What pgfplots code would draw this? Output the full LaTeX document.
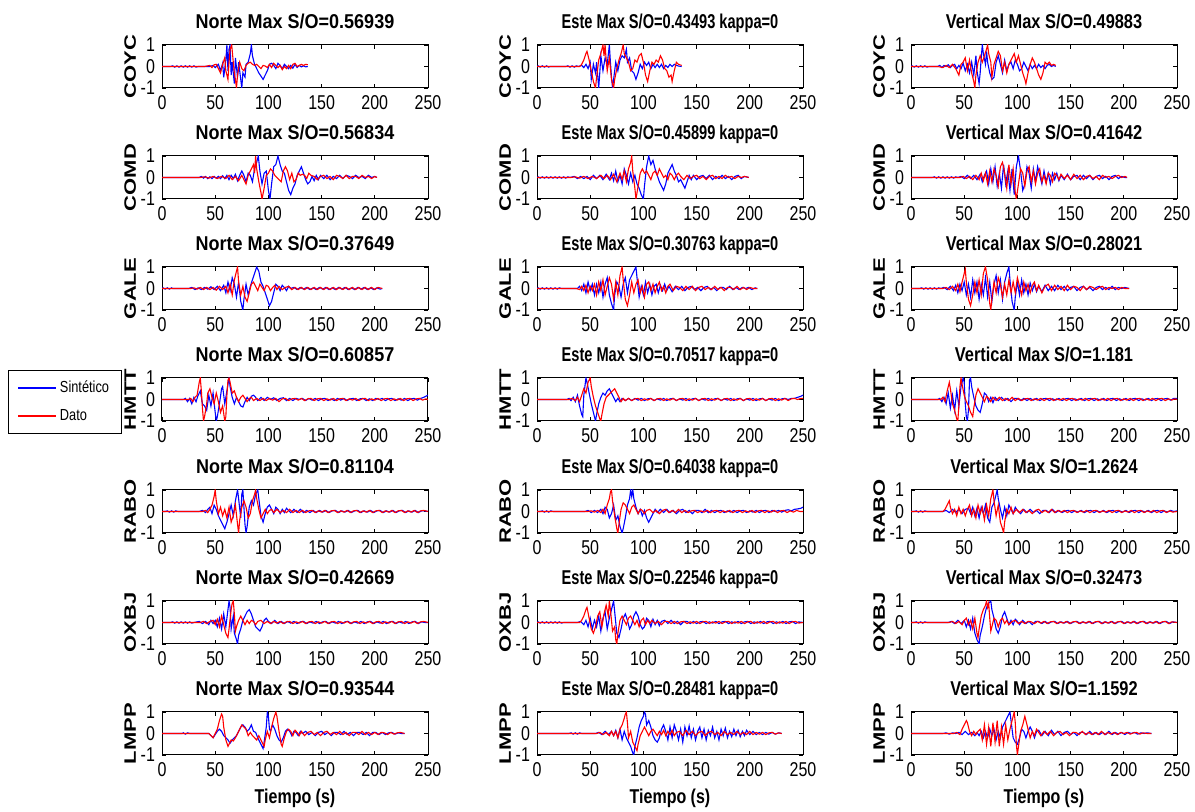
\documentclass[border=0pt]{standalone}
\usepackage{fontspec}
\setmainfont[FakeStretch=0.8]{Liberation Sans}
\newfontfamily\ylfont{Liberation Sans}
\newfontfamily\tfN[FakeStretch=0.9]{Liberation Sans}
\newfontfamily\tfE[FakeStretch=0.73]{Liberation Sans}
\newfontfamily\tfV[FakeStretch=0.82]{Liberation Sans}
\usepackage{graphicx}
\usepackage{pgfplots}
\pgfplotsset{compat=1.18}
\pgfplotsset{seis/.style={
  scale only axis, width=133pt, height=21.5pt, anchor=north west,
  xmin=0, xmax=250, ymin=-1, ymax=1,
  xtick={0,50,100,150,200,250}, ytick={-1,0,1},
  xticklabels={0,50,100,150,200,250}, yticklabels={-1,0,1},
  /pgf/number format/assume math mode=true,
  tick align=inside, major tick length=2pt,
  tick style={black, line width=0.4pt},
  axis line style={line width=0.5pt},
  tick label style={font=\fontsize{10}{10}\selectfont},
  title style={font=\bfseries\fontsize{10}{10}\selectfont, at={(axis description cs:0.5,1)}, anchor=base, yshift=2pt},
  ylabel style={at={(axis description cs:-0.12,0.5)}, anchor=center},
  xlabel style={font=\bfseries\fontsize{10}{10}\selectfont, at={(axis description cs:0.5,0)}, anchor=center, yshift=-21.5pt},
  every axis plot/.append style={line width=0.55pt},
}}
\newcommand{\ylab}[1]{\scalebox{1}[0.75]{\ylfont\bfseries\fontsize{11}{11}\selectfont #1}}
\newcommand{\panel}[7]{%
\begin{axis}[seis, at={(#1,#2)}, title={#3}, ylabel={\ylab{#4}}, #5]
\addplot[blue] coordinates {#6};
\addplot[red] coordinates {#7};
\end{axis}}
\begin{document}
\begin{tikzpicture}
\path[use as bounding box] (0,0) rectangle (597.5pt,406pt);
% ---------------- Row 1: COYC
\panel{81pt}{383.5pt}{\tfN Norte Max S/O=0.56939}{COYC}{}
{(0,0)(8,0)(10,0.03)(12,-0.03)(14,0.03)(16,-0.03)(18,0.03)(20,-0.03)(22,0.03)(24,-0.03)(26,0.03)(28,-0.03)(30,0.03)(32,-0.03)(34,0)(45,0)(48,0.05)(50,-0.05)(53,0.1)(55,-0.2)(57,0.15)(58,-0.5)(60,0.3)(61,1)(62,-0.2)(63,0.8)(64,1)(65,-0.4)(66,0.2)(68,-0.8)(69,0.4)(71,-0.5)(72,0.2)(74,-0.6)(75,-1)(76,-0.3)(78,-0.5)(79,0.1)(81,0.2)(83,0.6)(84,1)(85,0.5)(87,0.1)(89,-0.1)(91,-0.3)(93,-0.45)(95,-0.6)(97,-0.4)(99,-0.2)(101,0.1)(103,0.15)(105,0.05)(107,-0.1)(109,0.15)(111,0.05)(113,-0.1)(115,0.1)(117,0)(119,-0.1)(121,0.05)(123,-0.08)(125,0.1)(127,-0.05)(129,0.05)(131,-0.02)(133,0.03)(135,-0.02)(137,0)}
{(0,0)(40,0)(45,0.05)(47,-0.05)(49,0.08)(51,0.1)(53,-0.1)(55,-0.3)(57,0.1)(59,0.4)(60,-0.2)(62,-0.6)(63,0.2)(64,0.8)(65.5,1)(67,0.2)(68,-0.3)(69,-0.6)(70,-1)(71,-0.4)(73,0.2)(75,-0.1)(77,-0.2)(79,0.05)(81,0.15)(83,0.2)(85,0.1)(87,0.05)(89,0.1)(91,0)(93,-0.1)(95,0.05)(97,0.02)(99,-0.05)(101,0.1)(103,-0.05)(105,0.15)(107,0.05)(109,-0.05)(111,0.05)(113,-0.15)(115,0)(117,-0.1)(119,0.05)(121,-0.1)(123,0.1)(125,0.15)(127,0)(129,0.05)(131,0.1)(133,0.05)(135,0.1)(137,0.08)}
\panel{268.5pt}{383.5pt}{\tfE Este Max S/O=0.43493 kappa=0}{COYC}{}
{(0,0)(1,0.03)(3,-0.03)(5,0.03)(7,-0.03)(9,0.03)(11,-0.03)(12,0)(27,0)(29,0.03)(31,-0.03)(33,0.03)(35,-0.03)(37,0.03)(39,0)(42,0.05)(44,-0.05)(46,0.1)(48,-0.1)(50,0.2)(51,-0.6)(53,0.1)(55,-0.3)(56,0.2)(58,-1)(59,-0.3)(60,0.5)(62,-0.2)(64,0.4)(66,0.1)(68,1)(69,0.2)(70,-0.5)(71,-1)(72,-0.6)(74,0.2)(76,-0.2)(78,0.3)(80,0.5)(82,0.4)(84,0.8)(85,0.2)(87,0.4)(89,-0.2)(91,-0.3)(93,-0.6)(95,-0.3)(97,0.1)(99,-0.1)(101,0.2)(103,0.05)(105,0.2)(107,-0.1)(109,0.1)(111,-0.05)(113,0.1)(115,-0.05)(117,0.1)(119,-0.1)(121,0.05)(123,-0.05)(125,0.1)(127,0)(129,0.1)(131,0.05)(133,0.02)(136,0)}
{(0,0)(40,0)(42,0.1)(44,0.3)(46,0.6)(47,0.7)(49,0.3)(51,-0.2)(53,-0.7)(55,-1)(56,-0.5)(58,0.3)(60,0.6)(62,1)(63,0.5)(64,1)(65,0.3)(66,-0.2)(68,0.4)(70,-0.6)(72,-1)(73,-0.6)(75,-0.1)(77,0.3)(79,0.6)(81,1)(82,0.6)(84,0.4)(86,0.2)(88,-0.2)(90,-0.1)(92,0.3)(94,0.2)(96,0.5)(98,0.6)(100,0.2)(102,-0.4)(104,-0.7)(106,-0.2)(108,0.2)(110,0.1)(112,0.3)(114,0.2)(116,0.5)(118,0.3)(120,-0.1)(122,-0.2)(124,-0.5)(126,-0.4)(127,-0.7)(129,-0.2)(131,0.2)(133,0.1)(136,0.05)}
\panel{455.5pt}{383.5pt}{\tfV Vertical Max S/O=0.49883}{COYC}{}
{(0,0)(1,0.03)(3,-0.03)(5,0.03)(7,-0.03)(9,0.03)(11,-0.03)(13,0.03)(15,-0.03)(17,0)(25,0)(27,0.05)(29,-0.05)(31,0.05)(33,0)(35,0.08)(37,-0.05)(39,0.05)(41,0.1)(43,-0.1)(45,0.05)(47,-0.1)(49,0.15)(51,-0.2)(53,0.1)(55,-0.3)(57,0.2)(59,-0.4)(61,0.5)(62,-0.2)(64,-0.8)(65,-0.3)(66,0.4)(67,1)(68,0.6)(70,0.1)(71,0.7)(72,0.2)(74,-0.3)(76,-0.6)(78,-0.5)(80,0.2)(82,0.5)(84,0.1)(86,-0.3)(88,0.3)(90,-0.2)(92,0.1)(94,0.2)(96,-0.1)(98,0.3)(100,0.1)(102,-0.2)(104,-0.1)(106,0.2)(108,0)(110,-0.2)(112,0.1)(114,-0.1)(116,0.05)(118,-0.1)(120,0.1)(122,-0.05)(124,0.05)(126,-0.1)(128,0.05)(130,0.1)(132,0)(134,0.05)(136,0)}
{(0,0)(25,0)(30,-0.05)(33,0.05)(36,-0.05)(39,0.1)(42,-0.1)(45,-0.4)(47,0.1)(49,0.2)(51,0.4)(53,-0.2)(55,0.3)(57,-0.3)(59,-0.7)(60,-1)(61,-0.4)(63,0.2)(65,0.5)(67,0.2)(69,0.5)(71,0.8)(72,1)(73,0.6)(75,0.2)(76,-0.5)(78,0.1)(80,0.4)(82,0.7)(84,0.5)(86,-0.2)(88,0.2)(90,-0.3)(92,0.1)(94,0.3)(96,0.5)(97,0.6)(99,0.2)(101,0.5)(103,0.1)(105,-0.3)(107,-0.6)(108,-0.8)(110,-0.3)(112,0.1)(114,0.4)(116,0.2)(118,-0.1)(120,-0.4)(122,-0.6)(124,-0.3)(126,0.2)(128,0.1)(130,0.2)(132,0.05)(134,0.1)(136,0.05)}
% ---------------- Row 2: COMD
\panel{81pt}{328pt}{\tfN Norte Max S/O=0.56834}{COMD}{}
{(0,0)(35,0)(37,0.05)(39,-0.03)(41,0.05)(43,-0.05)(45,0.03)(47,-0.05)(49,0.05)(51,-0.03)(53,0.05)(55,-0.05)(57,0.08)(59,-0.05)(61,0.1)(63,-0.1)(65,0.1)(67,-0.05)(69,0.15)(71,-0.15)(73,0.1)(75,0.3)(77,0.1)(79,-0.2)(81,0.2)(83,0.1)(85,-0.2)(87,0.4)(89,0.7)(90.5,1)(92,0.3)(94,-0.3)(96,0.2)(98,0.3)(100,-0.6)(101.5,-1)(103,-0.3)(105,0.5)(107,0.6)(109,1)(111,0.6)(113,0.3)(115,0.2)(117,-0.2)(119,-0.6)(121,-0.8)(123,-0.5)(125,-0.3)(127,0.1)(129,0.3)(131,0.5)(133,0.2)(135,-0.1)(137,-0.3)(139,-0.2)(141,0.05)(143,-0.15)(145,0.1)(147,-0.1)(149,0.1)(152,-0.05)(155,0.1)(158,-0.1)(161,0.05)(164,-0.05)(167,0.1)(170,-0.05)(173,0.1)(176,0.05)(179,-0.05)(182,0.1)(185,0)(188,0.05)(191,-0.05)(194,0.1)(197,0)(200,0.05)(202,0)}
{(0,0)(36,0)(40,0.03)(44,-0.03)(48,0.05)(52,-0.05)(56,0.05)(60,-0.05)(63,0.1)(66,-0.1)(69,0.05)(72,-0.15)(75,0.1)(77,-0.1)(79,-0.3)(81,0.1)(83,0.3)(85,0.5)(86,0.6)(87,0.2)(88,1)(89,0.4)(91,-0.2)(93,-0.7)(94,-1)(96,-0.5)(98,0.1)(100,0.2)(102,0.4)(104,0.3)(106,0.1)(108,0)(110,-0.1)(112,-0.2)(114,0.3)(116,0.5)(118,0.3)(120,-0.1)(122,0.2)(124,-0.2)(126,-0.1)(128,0.2)(130,0.1)(132,0.15)(134,0.1)(136,-0.05)(138,0.2)(140,0.1)(143,0.05)(146,-0.1)(149,0.05)(152,0.1)(155,-0.05)(158,0.05)(161,-0.1)(164,0.1)(167,0.05)(170,-0.05)(173,0.1)(176,-0.05)(179,0.05)(182,0.05)(185,-0.05)(188,0.1)(191,0)(194,0.05)(197,-0.05)(200,0.05)(202,0)}
\panel{268.5pt}{328pt}{\tfE Este Max S/O=0.45899 kappa=0}{COMD}{}
{(0,0)(1,0.03)(3,-0.03)(5,0.03)(7,-0.03)(9,0.03)(11,-0.03)(13,0.03)(15,-0.03)(17,0.03)(19,-0.03)(21,0.03)(23,-0.03)(25,0.03)(27,-0.03)(29,0.03)(31,0)(35,0.05)(38,-0.05)(41,0.05)(44,-0.05)(47,0.05)(50,-0.1)(53,0.1)(56,-0.05)(59,0.1)(62,-0.1)(65,0.15)(68,-0.1)(70,0.2)(72,-0.15)(74,0.3)(76,-0.2)(78,0.1)(80,-0.3)(82,0.4)(84,0.1)(86,-0.3)(88,0.2)(90,-0.2)(92,0.1)(94,-0.3)(96,-0.5)(98,-0.8)(100,-1)(101,-0.4)(103,0.5)(105,1)(107,0.6)(109,0.8)(111,0.4)(113,0.1)(115,-0.2)(117,-0.4)(119,-0.6)(121,-0.3)(123,0.2)(125,0.4)(127,0.6)(129,0.3)(131,0.1)(133,-0.2)(135,-0.1)(137,-0.3)(139,-0.5)(141,-0.2)(143,0.1)(145,-0.1)(147,0.1)(150,-0.1)(153,0.05)(156,0.1)(159,-0.05)(162,0.1)(165,-0.1)(168,0.05)(171,-0.05)(174,0.1)(177,-0.05)(180,0.05)(183,-0.1)(186,0.05)(189,0.1)(192,-0.05)(195,0.05)(199,0)}
{(0,0)(32,0)(36,0.03)(40,-0.03)(44,0.05)(48,-0.05)(52,0.05)(56,-0.05)(60,0.1)(63,-0.05)(66,0.1)(69,-0.1)(72,0.15)(75,-0.2)(78,0.2)(80,-0.1)(82,0.3)(84,-0.2)(86,0.4)(88,0.7)(89,1)(90,0.3)(92,-0.5)(93,-1)(95,-0.4)(97,0.2)(99,0.4)(101,0.2)(103,0.3)(105,0.1)(107,-0.1)(109,0.2)(111,0.3)(113,0.1)(115,0.4)(117,0.2)(119,0.0)(121,0.1)(123,-0.1)(125,0.2)(127,0.1)(129,-0.1)(131,0.1)(133,0.2)(135,0.05)(138,-0.1)(141,0.1)(144,-0.05)(147,0.05)(150,0.1)(153,-0.05)(156,0.05)(159,-0.1)(162,0.05)(165,0.1)(168,-0.05)(171,0.05)(174,-0.05)(177,0.1)(180,0)(183,0.05)(186,-0.05)(189,0.05)(192,0)(195,0.05)(199,0)}
\panel{455.5pt}{328pt}{\tfV Vertical Max S/O=0.41642}{COMD}{}
{(0,0)(20,0)(22,0.03)(24,-0.03)(26,0.03)(28,-0.03)(30,0.03)(32,-0.03)(34,0.03)(36,-0.03)(38,0.03)(40,-0.03)(42,0.03)(44,0)(47,0.05)(50,-0.05)(53,0.1)(56,-0.05)(59,0.1)(62,-0.1)(65,0.15)(67,-0.2)(69,0.1)(71,0.3)(73,-0.3)(75,0.4)(77,-0.2)(79,0.5)(81,-0.4)(83,0.2)(85,-0.5)(87,0.6)(89,-0.3)(91,0.3)(93,-0.6)(95,0.4)(97,-0.8)(99,0.5)(101,1)(103,0.3)(105,-0.6)(107,-0.3)(109,0.5)(111,0.2)(113,-0.5)(115,0.4)(117,-0.2)(119,0.5)(121,0.1)(123,-0.3)(125,0.3)(127,-0.2)(129,0.2)(131,-0.3)(133,0.2)(135,-0.1)(137,0.2)(139,-0.15)(141,0.1)(144,-0.1)(147,0.15)(150,-0.1)(153,0.05)(156,0.1)(159,-0.1)(162,0.1)(165,-0.05)(168,0.1)(171,-0.1)(174,0.05)(177,0.1)(180,-0.05)(183,0.05)(186,-0.1)(189,0.05)(192,0.1)(195,-0.05)(198,0.05)(201,0)(203,0)}
{(0,0)(46,0)(49,0.05)(52,-0.05)(55,0.05)(58,-0.1)(61,0.1)(64,-0.1)(66,0.2)(68,-0.15)(70,0.2)(72,-0.3)(74,0.3)(76,-0.2)(78,0.4)(80,0.1)(82,-0.4)(84,0.5)(86,0.7)(88,0.2)(90,-0.5)(92,0.6)(94,-0.3)(96,0.4)(98,-0.7)(99,-1)(101,-0.3)(103,0.4)(105,0.2)(107,-0.4)(109,0.3)(111,0.5)(113,-0.2)(115,0.3)(117,-0.3)(119,0.2)(121,0.4)(123,-0.2)(125,0.1)(127,-0.3)(129,0.2)(131,0.1)(133,-0.2)(135,0.2)(137,0.1)(139,-0.1)(141,0.15)(144,-0.05)(147,0.1)(150,-0.1)(153,0.15)(156,-0.05)(159,0.1)(162,-0.1)(165,0.05)(168,0.1)(171,-0.05)(174,0.05)(177,-0.1)(180,0.1)(183,0)(186,0.05)(189,-0.05)(192,0.05)(195,0.1)(198,0)(201,0.05)(203,0)}
% ---------------- Row 3: GALE
\panel{81pt}{272.5pt}{\tfN Norte Max S/O=0.37649}{GALE}{}
{(0,0)(1,0.03)(3,-0.03)(5,0.03)(7,-0.03)(9,0.03)(10,0)(25,0)(28,0.05)(31,-0.05)(34,0.03)(37,-0.05)(40,0.05)(43,-0.03)(46,0.08)(49,-0.05)(52,0.1)(55,-0.1)(58,0.15)(60,-0.2)(62,0.3)(64,-0.1)(66,0.5)(68,0.2)(70,-0.4)(72,0.3)(74,-0.6)(76,-1)(77,-0.5)(79,0.2)(81,-0.3)(83,0.1)(85,0.4)(87,0.7)(89,1)(91,0.8)(93,0.3)(95,0.1)(97,-0.2)(99,-0.5)(101,-0.8)(103,-0.6)(105,-0.2)(107,0.2)(109,0.1)(111,-0.1)(113,0.15)(115,0.05)(117,-0.1)(119,0.1)(121,0)(124,0.05)(127,-0.05)(130,0.05)(133,-0.03)(136,0.05)(139,-0.05)(142,0.03)(145,-0.05)(148,0.05)(151,-0.03)(154,0.05)(157,-0.05)(160,0.03)(163,-0.05)(166,0.05)(169,-0.03)(172,0.05)(175,-0.05)(178,0.03)(181,-0.05)(184,0.05)(187,-0.03)(190,0.05)(193,-0.05)(196,0.03)(199,-0.05)(202,0.03)(205,-0.03)(207,0)}
{(0,0)(27,0)(30,0.03)(33,-0.03)(36,0.05)(39,-0.05)(42,0.05)(45,-0.05)(48,0.05)(51,-0.08)(54,0.1)(57,-0.05)(60,0.1)(62,-0.2)(64,0.2)(66,-0.3)(68,0.4)(70,0.8)(71,1)(72,0.3)(74,-0.3)(76,0.1)(78,-0.4)(80,-0.6)(82,-0.2)(84,0.2)(86,0.3)(88,0.1)(90,-0.1)(92,0.2)(94,0.05)(96,-0.1)(98,0.15)(100,0.1)(102,-0.1)(104,0.05)(106,0.15)(108,-0.05)(110,0.1)(113,-0.05)(116,0.05)(119,0.1)(122,-0.05)(125,0.05)(128,-0.05)(131,0.05)(134,-0.05)(137,0.05)(140,-0.05)(143,0.05)(146,-0.05)(149,0.05)(152,-0.05)(155,0.05)(158,-0.05)(161,0.05)(164,-0.05)(167,0.05)(170,-0.05)(173,0.05)(176,-0.05)(179,0.05)(182,-0.05)(185,0.05)(188,-0.05)(191,0.05)(194,-0.05)(197,0.05)(200,-0.05)(203,0.05)(207,0)}
\panel{268.5pt}{272.5pt}{\tfE Este Max S/O=0.30763 kappa=0}{GALE}{}
{(0,0)(1,0.03)(3,-0.03)(5,0.03)(7,-0.03)(9,0.03)(11,-0.03)(13,0.03)(15,-0.03)(17,0.03)(19,-0.03)(21,0.03)(23,0)(38,0)(40,0.1)(42,-0.1)(44,0.2)(46,-0.2)(48,0.3)(50,-0.1)(52,0.2)(54,-0.3)(56,0.2)(58,-0.2)(60,0.3)(62,-0.4)(64,0.2)(66,0.5)(68,-0.3)(70,-0.7)(72,-1)(73,-0.3)(75,0.3)(77,0.1)(79,-0.4)(81,0.2)(83,0.5)(85,-0.2)(87,0.4)(89,0.6)(91,0.8)(93,1)(94,0.5)(96,-0.4)(98,0.1)(100,-0.3)(102,0.3)(104,-0.2)(106,0.2)(108,-0.3)(110,0.1)(112,0.2)(114,-0.2)(116,0.15)(118,-0.1)(120,0.2)(122,-0.1)(124,0.1)(127,-0.15)(130,0.1)(133,-0.05)(136,0.1)(139,-0.1)(142,0.05)(145,0.1)(148,-0.05)(151,0.05)(154,-0.1)(157,0.05)(160,0.1)(163,-0.05)(166,0.05)(169,-0.1)(172,0.05)(175,0.05)(178,-0.05)(181,0.1)(184,-0.05)(187,0.05)(190,-0.05)(193,0.05)(196,0)(199,0.05)(202,-0.05)(205,0.03)(207,0)}
{(0,0)(37,0)(40,-0.05)(42,0.1)(44,-0.1)(46,0.15)(48,-0.2)(50,0.1)(52,-0.1)(54,0.2)(56,-0.3)(58,0.3)(60,-0.1)(62,0.4)(64,-0.3)(66,0.1)(68,0.5)(70,0.2)(72,-0.5)(74,0.3)(76,-0.3)(78,0.6)(80,1)(81,0.4)(83,-0.5)(85,-0.8)(87,-0.3)(89,0.3)(91,-0.2)(93,0.2)(95,0.4)(97,-0.2)(99,0.1)(101,-0.4)(103,0.2)(105,0.3)(107,-0.1)(109,0.2)(111,-0.2)(113,0.1)(115,0.3)(117,-0.1)(119,0.1)(121,-0.2)(123,0.1)(125,0.2)(128,-0.1)(131,0.1)(134,0.05)(137,-0.1)(140,0.1)(143,-0.05)(146,0.1)(149,-0.1)(152,0.05)(155,0.1)(158,-0.05)(161,0.05)(164,-0.05)(167,0.1)(170,-0.05)(173,0.05)(176,-0.1)(179,0.05)(182,0.05)(185,-0.05)(188,0.1)(191,-0.05)(194,0.05)(197,-0.05)(200,0.05)(203,0)(207,0)}
\panel{455.5pt}{272.5pt}{\tfV Vertical Max S/O=0.28021}{GALE}{}
{(0,0)(8,0)(10,0.03)(12,-0.03)(14,0.03)(16,-0.03)(18,0.03)(20,-0.03)(22,0.03)(24,-0.03)(26,0.03)(28,0)(31,0.05)(34,-0.05)(37,0.1)(40,-0.1)(42,0.15)(44,-0.2)(46,0.2)(48,-0.1)(50,0.3)(52,-0.3)(54,0.2)(56,-0.4)(58,0.4)(60,-0.2)(62,0.3)(64,-0.5)(66,0.2)(68,-0.3)(70,0.5)(72,-0.4)(74,0.3)(76,-0.6)(78,0.2)(80,0.6)(82,-0.2)(84,0.4)(86,-0.5)(88,0.3)(90,0.7)(92,1)(93,0.4)(95,-0.6)(97,-1)(98,-0.4)(100,0.3)(102,-0.3)(104,0.4)(106,-0.2)(108,0.2)(110,-0.3)(112,0.25)(114,-0.1)(116,0.2)(118,-0.15)(120,0.1)(123,-0.15)(126,0.15)(129,-0.1)(132,0.1)(135,-0.1)(138,0.15)(141,-0.05)(144,0.1)(147,-0.1)(150,0.05)(153,0.1)(156,-0.1)(159,0.05)(162,0.1)(165,-0.05)(168,0.05)(171,-0.1)(174,0.05)(177,0.1)(180,-0.05)(183,0.05)(186,-0.05)(189,0.1)(192,-0.05)(195,0.05)(198,0)(201,0.05)(205,0)}
{(0,0)(30,0)(33,0.05)(36,-0.05)(39,0.1)(42,-0.1)(44,0.2)(46,-0.15)(48,0.3)(50,0.7)(51,0.9)(52,0.3)(54,-0.5)(56,-0.8)(58,-0.3)(60,0.3)(62,-0.2)(64,0.4)(66,-0.3)(68,0.7)(70,1)(72,0.4)(74,-0.7)(75,-1)(76,-0.5)(78,0.3)(80,-0.2)(82,0.5)(84,0.2)(86,-0.4)(88,0.2)(90,-0.3)(92,0.4)(94,-0.2)(96,0.3)(98,-0.2)(100,0.5)(102,0.1)(104,-0.3)(106,0.3)(108,-0.1)(110,0.2)(112,-0.2)(114,0.15)(116,0.3)(118,-0.1)(120,0.15)(123,-0.2)(126,0.1)(129,0.2)(132,-0.1)(135,0.15)(138,-0.05)(141,0.1)(144,-0.1)(147,0.15)(150,-0.05)(153,0.1)(156,0.05)(159,-0.1)(162,0.1)(165,-0.05)(168,0.1)(171,0.05)(174,-0.05)(177,0.05)(180,0.1)(183,-0.05)(186,0.05)(189,0)(192,0.05)(195,-0.05)(198,0.05)(201,0)(205,0)}
% ---------------- Row 4: HMTT
\panel{81pt}{217pt}{\tfN Norte Max S/O=0.60857}{HMTT}{legend entries={Sintético,Dato}, legend style={at={(axis description cs:-0.579,1.186)}, anchor=north west, font=\fontsize{8}{9}\selectfont, draw=black, inner xsep=4.5pt, inner ysep=3.5pt, row sep=4pt, nodes={inner sep=1.5pt}, cells={anchor=west}}, legend image code/.code={\draw[#1, line width=0.8pt] (0pt,0pt) -- (19pt,0pt);}}
{(0,0)(20,0)(22,0.05)(24,-0.1)(26,0.05)(28,-0.2)(30,0.1)(32,-0.1)(34,0.2)(36,0.4)(38,-0.2)(40,-0.3)(42,-0.5)(44,0.2)(46,-0.3)(48,0.3)(50,-0.6)(51,-1)(52,-0.8)(54,-0.2)(56,0.5)(57,0.6)(59,-0.2)(61,0.4)(63,1)(64,0.6)(66,0.1)(68,-0.2)(70,0.1)(72,-0.1)(74,-0.3)(76,-0.35)(78,-0.1)(80,0.1)(82,-0.05)(84,0.15)(86,0.2)(88,0.1)(90,-0.05)(93,0.1)(96,-0.05)(99,0.1)(102,0)(105,0.08)(108,-0.05)(111,0.05)(114,0.08)(117,-0.05)(120,0.05)(123,-0.05)(126,0.05)(129,0)(132,0.05)(135,-0.05)(138,0.05)(141,-0.03)(144,0.05)(147,-0.05)(150,0.03)(153,0.05)(156,-0.05)(159,0.03)(162,-0.05)(165,0.05)(168,-0.03)(171,0.05)(174,-0.05)(177,0.03)(180,0.05)(183,-0.05)(186,0.03)(189,0.05)(192,-0.05)(195,0.03)(198,-0.05)(201,0.05)(204,0)(207,0.05)(210,-0.05)(213,0.03)(216,0.05)(219,-0.05)(222,0.03)(225,-0.03)(228,0.05)(231,-0.05)(234,0.03)(237,0.05)(240,-0.03)(243,0.05)(246,0.1)(248,0.15)(250,0.2)}
{(0,0)(25,0)(27,0.05)(29,-0.1)(31,0.1)(33,0.2)(35,0.8)(36,1)(37,0.4)(38,-0.4)(39,-1)(40,-0.8)(42,-0.2)(43,0.3)(45,0.5)(47,0.1)(49,-0.2)(51,0.3)(53,-0.1)(55,-0.6)(57,-0.3)(59,-1)(60,-0.8)(61,0.2)(62,0.9)(63,1)(64,0.8)(66,0.3)(68,0.4)(70,0.1)(72,-0.1)(74,0.1)(76,0.2)(78,0.05)(80,-0.1)(82,0.05)(84,0.1)(86,-0.05)(89,0.05)(92,-0.05)(95,0.05)(98,-0.05)(101,0.05)(104,-0.03)(107,0.05)(110,-0.1)(113,0.03)(116,0.05)(119,-0.05)(122,0.03)(125,0.05)(128,-0.03)(131,0.05)(134,-0.05)(137,0.03)(140,0.05)(143,-0.05)(146,0.03)(149,0.05)(152,-0.05)(155,0.03)(158,-0.03)(161,0.05)(164,-0.05)(167,0.03)(170,0.05)(173,-0.05)(176,0.03)(179,-0.03)(182,0.05)(185,-0.05)(188,0.03)(191,0.05)(194,-0.05)(197,0.03)(200,-0.03)(203,0.05)(206,-0.05)(209,0.03)(212,0.05)(215,-0.05)(218,0.03)(221,-0.03)(224,0.05)(227,-0.05)(230,0.03)(233,0.05)(236,-0.05)(239,0.03)(242,0.05)(245,-0.03)(248,0.03)(250,0)}
\panel{268.5pt}{217pt}{\tfE Este Max S/O=0.70517 kappa=0}{HMTT}{}
{(0,0)(28,0)(30,0.05)(32,-0.05)(34,0.1)(36,-0.1)(38,0.2)(40,-0.3)(42,-0.7)(43,-0.8)(44,0.2)(46,1)(47,0.8)(49,0.3)(51,-0.2)(53,-0.6)(55,-1)(56,-0.7)(58,-0.2)(60,0.1)(62,0.3)(64,0.2)(66,0.4)(68,0.5)(70,0.3)(72,0.1)(74,-0.1)(76,0.05)(78,-0.1)(80,0.05)(83,-0.05)(86,0.05)(89,-0.05)(92,0.05)(95,-0.03)(98,0.05)(101,-0.05)(104,0.03)(107,0.05)(110,-0.05)(113,0.03)(116,-0.03)(119,0.05)(122,-0.05)(125,0.03)(128,0.05)(131,-0.05)(134,0.03)(137,-0.03)(140,0.05)(143,-0.05)(146,0.03)(149,0.05)(152,-0.05)(155,0.03)(158,-0.03)(161,0.05)(164,-0.05)(167,0.03)(170,0.05)(173,-0.05)(176,0.03)(179,-0.03)(182,0.05)(185,-0.05)(188,0.03)(191,0.05)(194,-0.05)(197,0.03)(200,-0.03)(203,0.05)(206,-0.05)(209,0.03)(212,0.05)(215,-0.05)(218,0.03)(221,-0.03)(224,0.05)(227,-0.05)(230,0.03)(233,0.05)(236,0)(239,0.05)(242,0.05)(245,0.1)(248,0.15)(250,0.2)}
{(0,0)(30,0)(33,0.05)(36,-0.05)(38,0.1)(40,-0.1)(42,0.2)(44,0.5)(46,0.3)(48,0.8)(50,1)(51,0.6)(53,0.1)(55,-0.3)(57,-0.6)(59,-0.9)(60,-1)(61,-0.7)(63,-0.2)(65,0.1)(67,0.2)(69,0.3)(71,0.4)(73,0.5)(75,0.3)(77,0.1)(79,-0.1)(81,0.05)(83,-0.05)(86,0.05)(89,-0.05)(92,0.03)(95,0.05)(98,-0.05)(101,0.03)(104,-0.03)(107,0.05)(110,-0.05)(113,0.03)(116,0.05)(119,-0.05)(122,0.03)(125,-0.03)(128,0.05)(131,-0.05)(134,0.03)(137,0.05)(140,-0.05)(143,0.03)(146,-0.03)(149,0.05)(152,-0.05)(155,0.03)(158,0.05)(161,-0.05)(164,0.03)(167,-0.03)(170,0.05)(173,-0.05)(176,0.03)(179,0.05)(182,-0.05)(185,0.03)(188,-0.03)(191,0.05)(194,-0.05)(197,0.03)(200,0.05)(203,-0.05)(206,0.03)(209,-0.03)(212,0.05)(215,-0.05)(218,0.03)(221,0.05)(224,-0.05)(227,0.03)(230,-0.03)(233,0.05)(236,-0.05)(239,0.03)(242,0.05)(245,0)(248,0.05)(250,0.05)}
\panel{455.5pt}{217pt}{\tfV Vertical Max S/O=1.181}{HMTT}{}
{(0,0)(25,0)(27,0.05)(29,-0.1)(31,0.1)(33,-0.2)(35,0.3)(37,-0.4)(39,0.2)(41,-0.5)(43,0.4)(45,-0.3)(47,0.6)(49,1)(50,0.8)(51,-0.2)(52,-0.8)(53,-1)(54,-0.5)(55,0.9)(56,1)(57,0.6)(59,0.1)(61,-0.3)(63,-0.5)(65,-0.6)(67,-0.2)(69,0.3)(71,0.2)(73,-0.1)(75,0.1)(77,-0.15)(79,0.1)(82,-0.05)(85,0.1)(88,-0.05)(91,0.05)(94,-0.1)(97,0.05)(100,0.05)(103,-0.05)(106,0.05)(109,-0.05)(112,0.05)(115,-0.03)(118,0.05)(121,-0.05)(124,0.03)(127,0.05)(130,-0.05)(133,0.03)(136,-0.03)(139,0.05)(142,-0.05)(145,0.03)(148,0.05)(151,-0.05)(154,0.03)(157,-0.03)(160,0.05)(163,-0.05)(166,0.03)(169,0.05)(172,-0.05)(175,0.03)(178,-0.03)(181,0.05)(184,-0.05)(187,0.03)(190,0.05)(193,-0.05)(196,0.03)(199,-0.03)(202,0.05)(205,-0.05)(208,0.03)(211,0.05)(214,-0.05)(217,0.03)(220,-0.03)(223,0.05)(226,-0.05)(229,0.03)(232,0.05)(235,-0.05)(238,0.03)(241,0.05)(244,-0.03)(247,0.05)(250,0.05)}
{(0,0)(28,0)(30,0.1)(32,-0.1)(34,0.4)(36,0.8)(37,0.5)(39,-0.2)(41,-0.5)(43,-0.9)(44,-1)(45,-0.3)(46,0.6)(47,1)(48,0.7)(50,0.2)(52,-0.1)(54,-0.3)(56,-0.6)(58,-0.8)(59,-0.4)(61,0.2)(63,0.5)(65,0.3)(67,0.1)(69,-0.1)(71,0.15)(73,0.05)(75,-0.1)(77,0.1)(80,-0.05)(83,0.1)(86,-0.05)(89,0.05)(92,-0.05)(95,0.1)(98,-0.05)(101,0.05)(104,-0.05)(107,0.03)(110,0.05)(113,-0.05)(116,0.03)(119,-0.03)(122,0.05)(125,-0.05)(128,0.03)(131,0.05)(134,-0.05)(137,0.03)(140,-0.03)(143,0.05)(146,-0.05)(149,0.03)(152,0.05)(155,-0.05)(158,0.03)(161,-0.03)(164,0.05)(167,-0.05)(170,0.03)(173,0.05)(176,-0.05)(179,0.03)(182,-0.03)(185,0.05)(188,-0.05)(191,0.03)(194,0.05)(197,-0.05)(200,0.03)(203,-0.03)(206,0.05)(209,-0.05)(212,0.03)(215,0.05)(218,-0.05)(221,0.03)(224,-0.03)(227,0.05)(230,-0.05)(233,0.03)(236,0.05)(239,-0.05)(242,0.03)(245,-0.03)(248,0.03)(250,0)}
% ---------------- Row 5: RABO
\panel{81pt}{161pt}{\tfN Norte Max S/O=0.81104}{RABO}{}
{(0,0)(3,0)(5,0.03)(7,-0.03)(9,0.03)(11,-0.03)(13,0.03)(15,0)(35,0)(38,0.05)(41,-0.05)(43,0.1)(45,0.2)(47,-0.1)(49,0.3)(51,0.1)(53,-0.2)(55,-0.4)(57,-0.6)(59,-0.8)(61,-0.5)(63,-0.1)(65,0.3)(67,-0.2)(69,0.5)(71,1)(72,0.6)(74,-0.3)(75,0.8)(76,1)(77,0.2)(78,-0.6)(79,-1)(80,-0.7)(82,0.2)(84,0.5)(86,0.3)(88,0.8)(90,1)(91,0.6)(93,-0.2)(95,-0.5)(97,-0.1)(99,0.2)(101,0.3)(103,0.1)(105,-0.1)(107,0.2)(109,0.1)(111,-0.1)(113,0.1)(115,-0.05)(117,0.15)(119,0.05)(121,-0.05)(124,0.1)(127,-0.05)(130,0.1)(133,-0.05)(136,0.05)(139,-0.05)(142,0.05)(145,-0.05)(148,0.05)(151,-0.03)(154,0.05)(157,-0.05)(160,0.03)(163,0.05)(166,-0.05)(169,0.03)(172,-0.03)(175,0.05)(178,-0.05)(181,0.03)(184,0.05)(187,-0.05)(190,0.03)(193,-0.03)(196,0.05)(199,-0.05)(202,0.03)(205,0.05)(208,-0.05)(211,0.03)(214,-0.03)(217,0.05)(220,-0.05)(223,0.03)(226,0.05)(229,-0.05)(232,0.03)(235,-0.03)(238,0.05)(241,-0.05)(244,0.03)(247,0.03)(250,0)}
{(0,0)(38,0)(41,0.05)(43,-0.05)(45,0.1)(47,0.3)(49,0.7)(50,1)(51,0.5)(53,-0.1)(55,0.2)(57,-0.2)(59,0.1)(61,-0.3)(63,0.2)(65,-0.5)(67,-0.2)(69,0.3)(71,-0.6)(72,-1)(73,-0.4)(75,0.2)(77,0.5)(79,0.2)(81,-0.3)(83,-0.1)(85,0.5)(87,0.8)(88,1)(89,0.6)(91,0.1)(93,-0.3)(95,-0.1)(97,0.1)(99,-0.1)(101,0.05)(103,0.1)(105,-0.05)(108,0.1)(111,-0.05)(114,0.05)(117,-0.05)(120,0.1)(123,-0.05)(126,0.05)(129,-0.05)(132,0.05)(135,-0.05)(138,0.03)(141,0.05)(144,-0.05)(147,0.03)(150,-0.03)(153,0.05)(156,-0.05)(159,0.03)(162,0.05)(165,-0.05)(168,0.03)(171,-0.03)(174,0.05)(177,-0.05)(180,0.03)(183,0.05)(186,-0.05)(189,0.03)(192,-0.03)(195,0.05)(198,-0.05)(201,0.03)(204,0.05)(207,-0.05)(210,0.03)(213,-0.03)(216,0.05)(219,-0.05)(222,0.03)(225,0.05)(228,-0.05)(231,0.03)(234,-0.03)(237,0.05)(240,-0.05)(243,0.03)(246,0.05)(250,0)}
\panel{268.5pt}{161pt}{\tfE Este Max S/O=0.64038 kappa=0}{RABO}{}
{(0,0)(3,0)(5,0.03)(7,-0.03)(9,0.03)(11,-0.03)(13,0.03)(15,0)(45,0)(48,0.05)(51,-0.05)(54,0.05)(57,-0.05)(60,0.1)(62,-0.1)(64,0.2)(66,0.1)(68,-0.3)(70,-0.1)(72,0.3)(74,-0.4)(76,-0.2)(78,-0.7)(80,-1)(81,-0.8)(83,-0.3)(85,0.3)(87,0.6)(88,1)(89,0.7)(90,1)(91,0.6)(93,0.2)(95,-0.1)(97,0.1)(99,-0.2)(101,0.05)(103,-0.3)(105,-0.5)(107,-0.3)(109,-0.1)(111,0.1)(113,-0.05)(116,0.1)(119,-0.05)(122,0.1)(125,-0.05)(128,0.05)(131,-0.1)(134,0.05)(137,0.1)(140,-0.05)(143,0.05)(146,-0.1)(149,0.05)(152,0.05)(155,-0.05)(158,0.1)(161,-0.05)(164,0.05)(167,-0.05)(170,0.03)(173,0.05)(176,-0.05)(179,0.03)(182,-0.03)(185,0.05)(188,-0.05)(191,0.03)(194,0.05)(197,-0.05)(200,0.03)(203,-0.03)(206,0.05)(209,-0.05)(212,0.03)(215,0.05)(218,-0.05)(221,0.05)(224,0)(227,0.05)(230,-0.03)(233,0.05)(236,0.08)(239,0.03)(242,0.1)(245,0.12)(248,0.15)(250,0.2)}
{(0,0)(48,0)(51,0.03)(54,-0.03)(57,0.05)(60,-0.05)(62,0.1)(64,-0.1)(66,0.3)(68,0.6)(69,0.9)(70,1)(71,0.5)(73,-0.2)(75,-0.8)(76,-1)(77,-0.6)(79,0.1)(81,0.4)(83,0.3)(85,0.1)(87,-0.1)(89,0.2)(91,0.3)(93,0.1)(95,-0.1)(97,0.1)(99,0.05)(101,-0.1)(103,0.05)(106,0.1)(109,-0.05)(112,0.05)(115,-0.1)(118,0.05)(121,0.1)(124,-0.05)(127,0.05)(130,-0.05)(133,0.1)(136,-0.05)(139,0.05)(142,-0.05)(145,0.03)(148,0.05)(151,-0.05)(154,0.03)(157,-0.03)(160,0.05)(163,-0.05)(166,0.03)(169,0.05)(172,-0.05)(175,0.03)(178,-0.03)(181,0.05)(184,-0.05)(187,0.03)(190,0.05)(193,-0.05)(196,0.03)(199,-0.03)(202,0.05)(205,-0.05)(208,0.03)(211,0.05)(214,-0.05)(217,0.03)(220,-0.03)(223,0.05)(226,-0.05)(229,0.03)(232,0.05)(235,-0.05)(238,0.03)(241,-0.03)(244,0.05)(247,0)(250,0)}
\panel{455.5pt}{161pt}{\tfV Vertical Max S/O=1.2624}{RABO}{}
{(0,0)(3,0)(5,0.03)(7,-0.03)(9,0.03)(11,-0.03)(13,0.03)(15,0)(30,0)(33,0.05)(36,-0.05)(39,0.1)(42,-0.05)(45,0.1)(48,-0.1)(51,0.1)(54,0.15)(56,-0.1)(58,0.2)(60,-0.2)(62,0.15)(64,-0.3)(66,0.2)(68,-0.1)(70,0.3)(72,-0.3)(74,-0.5)(76,0.2)(78,0.4)(80,0.8)(81,1)(82,0.6)(84,0.1)(86,-0.3)(88,0.2)(90,-0.2)(92,0.3)(94,0.1)(96,-0.1)(98,0.2)(100,0.05)(103,-0.1)(106,0.1)(109,-0.05)(112,0.1)(115,-0.05)(118,0.05)(121,-0.1)(124,0.05)(127,0.05)(130,-0.05)(133,0.1)(136,-0.05)(139,0.05)(142,-0.05)(145,0.03)(148,0.05)(151,-0.05)(154,0.03)(157,-0.03)(160,0.05)(163,-0.05)(166,0.03)(169,0.05)(172,-0.05)(175,0.03)(178,-0.03)(181,0.05)(184,-0.05)(187,0.03)(190,0.05)(193,-0.05)(196,0.03)(199,-0.03)(202,0.05)(205,-0.05)(208,0.03)(211,0.05)(214,-0.05)(217,0.03)(220,-0.03)(223,0.05)(226,-0.05)(229,0.03)(232,0.05)(235,-0.05)(238,0.03)(241,-0.03)(244,0.05)(247,0)(250,0.03)}
{(0,0)(30,0)(32,0.1)(34,0.3)(36,0.5)(37,0.2)(39,-0.1)(41,0.1)(43,-0.2)(45,0.2)(47,-0.1)(49,0.1)(51,-0.2)(53,0.1)(55,0.3)(57,-0.2)(59,0.1)(61,-0.3)(63,0.3)(65,-0.1)(67,0.2)(69,-0.4)(71,0.3)(73,-0.2)(75,0.6)(77,1)(78,0.5)(80,-0.2)(82,0.3)(84,-0.5)(86,-0.8)(87,-1)(88,-0.5)(90,0.1)(92,-0.1)(94,0.2)(96,-0.1)(99,0.1)(102,-0.05)(105,0.1)(108,-0.05)(111,0.05)(114,-0.1)(117,0.05)(120,0.1)(123,-0.05)(126,0.05)(129,-0.05)(132,0.1)(135,-0.05)(138,0.05)(141,-0.03)(144,0.05)(147,-0.05)(150,0.03)(153,0.05)(156,-0.05)(159,0.03)(162,-0.03)(165,0.05)(168,-0.05)(171,0.03)(174,0.05)(177,-0.05)(180,0.03)(183,-0.03)(186,0.05)(189,-0.05)(192,0.03)(195,0.05)(198,-0.05)(201,0.03)(204,-0.03)(207,0.05)(210,-0.05)(213,0.03)(216,0.05)(219,-0.05)(222,0.03)(225,-0.03)(228,0.05)(231,-0.05)(234,0.03)(237,0.05)(240,-0.05)(243,0.03)(246,-0.03)(250,0)}
% ---------------- Row 6: OXBJ
\panel{81pt}{105.5pt}{\tfN Norte Max S/O=0.42669}{OXBJ}{}
{(0,0)(8,0)(10,0.03)(12,-0.03)(14,0.03)(16,-0.03)(18,0.03)(20,-0.03)(22,0.03)(24,-0.03)(26,0.03)(28,-0.03)(30,0)(35,0.05)(38,-0.05)(41,0.05)(44,-0.1)(46,0.1)(48,-0.05)(50,0.1)(52,-0.2)(54,0.2)(56,-0.3)(58,0.4)(60,-0.2)(62,0.6)(63,1)(64,0.7)(65,-0.3)(67,0.3)(68,-0.5)(70,-0.8)(71,-1)(72,-0.6)(74,-0.3)(76,0.1)(78,0.3)(80,0.5)(82,0.6)(84,0.4)(86,0.1)(88,-0.2)(90,-0.3)(92,-0.4)(94,-0.2)(96,0.1)(98,0.2)(100,0.05)(103,-0.05)(106,0.1)(109,-0.05)(112,0.05)(115,-0.05)(118,0.05)(121,-0.03)(124,0.05)(127,-0.05)(130,0.03)(133,0.05)(136,-0.05)(139,0.03)(142,-0.03)(145,0.05)(148,-0.05)(151,0.03)(154,0.05)(157,-0.05)(160,0.03)(163,-0.03)(166,0.05)(169,-0.05)(172,0.03)(175,0.05)(178,-0.05)(181,0.03)(184,-0.03)(187,0.05)(190,-0.05)(193,0.03)(196,0.05)(199,-0.05)(202,0.03)(205,-0.03)(208,0.05)(211,-0.05)(214,0.03)(217,0.05)(220,-0.05)(223,0.03)(226,-0.03)(229,0.05)(232,-0.05)(235,0.03)(238,0.05)(241,-0.05)(244,0.03)(247,0)(250,0)}
{(0,0)(36,0)(39,0.05)(42,-0.05)(45,0.05)(48,0.1)(50,-0.1)(52,0.15)(54,-0.2)(56,0.3)(58,-0.1)(60,-0.5)(62,-0.7)(63,-0.3)(65,0.6)(66,0.9)(67,1)(68,0.4)(69,-0.4)(70,-0.2)(72,0.1)(74,0.3)(76,0.1)(78,-0.1)(80,0.1)(82,-0.05)(84,0.1)(86,0.05)(88,-0.1)(90,0.05)(93,0.1)(96,-0.05)(99,0.05)(102,-0.05)(105,0.05)(108,-0.03)(111,0.05)(114,-0.05)(117,0.03)(120,0.05)(123,-0.05)(126,0.03)(129,-0.03)(132,0.05)(135,-0.05)(138,0.03)(141,0.05)(144,-0.05)(147,0.03)(150,-0.03)(153,0.05)(156,-0.05)(159,0.03)(162,0.05)(165,-0.05)(168,0.03)(171,-0.03)(174,0.05)(177,-0.05)(180,0.03)(183,0.05)(186,-0.05)(189,0.03)(192,-0.03)(195,0.05)(198,-0.05)(201,0.03)(204,0.05)(207,-0.05)(210,0.03)(213,-0.03)(216,0.05)(219,-0.05)(222,0.03)(225,0.05)(228,-0.05)(231,0.03)(234,-0.03)(237,0.05)(240,-0.05)(243,0.03)(246,0.05)(250,0)}
\panel{268.5pt}{105.5pt}{\tfE Este Max S/O=0.22546 kappa=0}{OXBJ}{}
{(0,0)(1,0.03)(3,-0.03)(5,0.03)(7,-0.03)(9,0.03)(11,-0.03)(13,0.03)(15,-0.03)(17,0.03)(19,-0.03)(21,0.03)(23,-0.03)(25,0)(38,0)(41,0.05)(44,-0.1)(46,0.1)(48,-0.2)(50,0.2)(52,-0.3)(54,0.1)(56,-0.2)(58,0.3)(60,-0.4)(62,0.2)(64,0.5)(66,-0.3)(68,0.2)(70,0.6)(72,1)(73,0.5)(75,-0.5)(77,-0.7)(79,-0.3)(81,0.2)(83,0.4)(85,0.1)(87,-0.3)(89,-0.1)(91,0.3)(93,0.5)(95,0.3)(97,-0.1)(99,-0.3)(101,-0.2)(103,0.2)(105,0.1)(107,-0.2)(109,0.15)(111,-0.1)(113,0.1)(115,-0.15)(117,0.05)(120,0.1)(123,-0.05)(126,0.1)(129,-0.05)(132,0.05)(135,-0.1)(138,0.05)(141,0.05)(144,-0.05)(147,0.05)(150,-0.05)(153,0.03)(156,0.05)(159,-0.05)(162,0.03)(165,-0.03)(168,0.05)(171,-0.05)(174,0.03)(177,0.05)(180,-0.05)(183,0.03)(186,-0.03)(189,0.05)(192,-0.05)(195,0.03)(198,0.05)(201,-0.05)(204,0.03)(207,-0.03)(210,0.05)(213,-0.05)(216,0.03)(219,0.05)(222,-0.05)(225,0.03)(228,-0.03)(231,0.05)(234,-0.05)(237,0.03)(240,0.05)(243,-0.05)(246,0.03)(250,0)}
{(0,0)(40,0)(42,0.1)(44,0.3)(46,0.6)(47,0.7)(49,0.2)(51,-0.3)(53,-0.5)(55,-0.2)(57,0.3)(59,0.5)(61,-0.2)(63,0.4)(65,0.8)(67,0.3)(68,1)(69,0.6)(71,-0.4)(73,-0.2)(74,-0.8)(75,-1)(76,-0.5)(78,0.1)(80,0.3)(82,0.1)(84,-0.1)(86,0.2)(88,0.3)(90,0.1)(92,-0.1)(94,0.1)(96,-0.2)(98,0.1)(100,0.2)(102,-0.1)(104,0.1)(106,-0.05)(108,0.1)(111,-0.05)(114,0.05)(117,-0.1)(120,0.05)(123,0.05)(126,-0.05)(129,0.05)(132,-0.05)(135,0.03)(138,0.05)(141,-0.05)(144,0.03)(147,-0.03)(150,0.05)(153,-0.05)(156,0.03)(159,0.05)(162,-0.05)(165,0.03)(168,-0.03)(171,0.05)(174,-0.05)(177,0.03)(180,0.05)(183,-0.05)(186,0.03)(189,-0.03)(192,0.05)(195,-0.05)(198,0.03)(201,0.05)(204,-0.05)(207,0.03)(210,-0.03)(213,0.05)(216,-0.05)(219,0.03)(222,0.05)(225,-0.05)(228,0.03)(231,-0.03)(234,0.05)(237,-0.05)(240,0.03)(243,0.05)(246,-0.03)(250,0)}
\panel{455.5pt}{105.5pt}{\tfV Vertical Max S/O=0.32473}{OXBJ}{}
{(0,0)(3,0)(5,0.03)(7,-0.03)(9,0.03)(11,-0.03)(13,0.03)(15,0)(35,0)(38,0.05)(41,-0.05)(44,0.1)(47,-0.05)(50,0.1)(52,-0.2)(54,0.1)(56,-0.3)(58,0.2)(60,-0.5)(62,-0.8)(64,-1)(65,-0.6)(67,-0.2)(69,0.3)(71,0.7)(73,0.9)(75,1)(76,0.6)(78,0.2)(80,-0.3)(82,-0.5)(84,-0.2)(86,0.3)(88,0.5)(90,0.2)(92,-0.1)(94,0.1)(96,-0.1)(98,0.15)(100,0.05)(102,-0.1)(105,0.1)(108,-0.05)(111,0.05)(114,-0.1)(117,0.05)(120,0.05)(123,-0.05)(126,0.05)(129,-0.05)(132,0.03)(135,0.05)(138,-0.05)(141,0.03)(144,-0.03)(147,0.05)(150,-0.05)(153,0.03)(156,0.05)(159,-0.05)(162,0.03)(165,-0.03)(168,0.05)(171,-0.05)(174,0.03)(177,0.05)(180,-0.05)(183,0.03)(186,-0.03)(189,0.05)(192,-0.05)(195,0.03)(198,0.05)(201,-0.05)(204,0.03)(207,-0.03)(210,0.05)(213,-0.05)(216,0.03)(219,0.05)(222,-0.05)(225,0.03)(228,-0.03)(231,0.05)(234,-0.05)(237,0.03)(240,0.05)(243,-0.05)(246,0.03)(250,0)}
{(0,0)(36,0)(39,0.05)(42,-0.05)(45,0.05)(48,-0.1)(50,0.1)(52,0.2)(54,-0.1)(56,0.1)(58,-0.3)(60,0.2)(62,-0.5)(63,-0.7)(64,-0.3)(66,0.3)(68,0.6)(70,0.8)(71,1)(72,0.7)(73,0.9)(74,0.2)(75,-0.4)(76,-0.2)(78,0.2)(80,0.1)(82,-0.2)(84,0.1)(86,0.2)(88,-0.05)(90,0.1)(92,-0.1)(95,0.05)(98,0.1)(101,-0.05)(104,0.05)(107,-0.05)(110,0.05)(113,0.03)(116,-0.05)(119,0.05)(122,-0.03)(125,0.05)(128,-0.05)(131,0.03)(134,0.05)(137,-0.05)(140,0.03)(143,-0.03)(146,0.05)(149,-0.05)(152,0.03)(155,0.05)(158,-0.05)(161,0.03)(164,-0.03)(167,0.05)(170,-0.05)(173,0.03)(176,0.05)(179,-0.05)(182,0.03)(185,-0.03)(188,0.05)(191,-0.05)(194,0.03)(197,0.05)(200,-0.05)(203,0.03)(206,-0.03)(209,0.05)(212,-0.05)(215,0.03)(218,0.05)(221,-0.05)(224,0.03)(227,-0.03)(230,0.05)(233,-0.05)(236,0.03)(239,0.05)(242,-0.05)(245,0.03)(250,0)}
% ---------------- Row 7: LMPP
\panel{81pt}{50pt}{\tfN Norte Max S/O=0.93544}{LMPP}{xlabel={Tiempo (s)}}
{(0,0)(19,0)(20,0.03)(22,-0.03)(24,0.03)(26,0)(44,0)(46,-0.1)(48,-0.2)(50,-0.05)(52,0.1)(54,0.2)(56,0.1)(58,-0.1)(60,-0.2)(62,-0.3)(64,-0.45)(66,-0.3)(68,-0.2)(70,-0.1)(72,0.1)(74,0.3)(76,0.4)(78,0.3)(80,0.1)(82,0.2)(84,0.4)(86,0.1)(88,0.05)(90,-0.2)(92,-0.4)(94,-0.6)(95,-0.7)(96,-0.4)(98,0.3)(99,1)(100,0.8)(101,0.2)(102,0.1)(104,0.4)(106,0.2)(108,-0.1)(110,-0.3)(112,-0.4)(114,-0.2)(116,0.1)(118,0.2)(120,0.1)(122,-0.1)(124,0.1)(126,0.05)(128,-0.1)(130,0.1)(132,0)(135,0.1)(138,-0.05)(141,0.05)(144,-0.1)(147,0.05)(150,0.1)(153,-0.05)(156,0.05)(159,-0.1)(162,0.05)(165,0.05)(168,-0.05)(171,0.1)(174,-0.05)(177,0.05)(180,-0.1)(183,0.05)(186,0.05)(189,-0.05)(192,0.05)(195,-0.1)(198,0.05)(201,0.05)(204,-0.05)(207,0.05)(210,-0.05)(213,0.03)(216,0.05)(219,-0.03)(222,0.03)(225,0)(228,0)}
{(0,0)(44,0)(46,-0.1)(48,-0.2)(50,0)(52,0.2)(54,0.6)(56,0.9)(57,0.8)(58,0.3)(60,-0.3)(62,-0.6)(63,-0.5)(65,-0.3)(67,-0.35)(69,-0.2)(71,0)(73,0.2)(75,0.4)(77,0.3)(79,0.2)(81,-0.1)(83,0.05)(85,-0.1)(87,-0.2)(89,-0.3)(91,-0.1)(93,-0.3)(95,-0.5)(96,-0.6)(97,-0.3)(99,0.1)(101,-0.2)(103,0.3)(105,0.7)(107,1)(108,0.8)(110,0.1)(112,-0.5)(113,-0.6)(115,-0.2)(117,0.1)(119,0.2)(121,0.1)(123,-0.1)(125,0.15)(127,0.05)(129,-0.1)(131,0.1)(134,-0.1)(137,0.05)(140,0.1)(143,-0.05)(146,0.05)(149,-0.1)(152,0.05)(155,0.1)(158,-0.05)(161,0.05)(164,-0.05)(167,0.1)(170,-0.05)(173,0.05)(176,-0.1)(179,0.05)(182,0.05)(185,-0.05)(188,0.1)(191,-0.05)(194,0.05)(197,-0.05)(200,0.05)(203,-0.05)(206,0.05)(209,0.03)(212,-0.05)(215,0.05)(218,-0.03)(221,0.03)(224,0.05)(228,0)}
\panel{268.5pt}{50pt}{\tfE Este Max S/O=0.28481 kappa=0}{LMPP}{xlabel={Tiempo (s)}}
{(0,0)(30,0)(32,0.03)(34,-0.03)(36,0.03)(38,-0.03)(40,0.03)(42,0)(55,0)(58,0.05)(61,-0.05)(64,0.1)(67,-0.05)(70,0.1)(72,-0.1)(74,0.15)(76,-0.2)(78,0.2)(80,-0.3)(82,0.1)(84,-0.2)(86,-0.4)(88,-0.6)(90,-0.9)(91,-1)(92,-0.6)(94,-0.2)(96,0.3)(98,0.6)(100,0.8)(101,1)(102,0.9)(103,0.4)(105,0.6)(107,0.3)(109,-0.1)(111,-0.3)(113,-0.4)(115,-0.2)(117,0.2)(119,0.4)(121,0.1)(123,-0.3)(125,0.3)(127,-0.2)(129,0.4)(131,0.1)(133,-0.3)(135,0.2)(137,-0.4)(139,0.3)(141,-0.1)(143,0.35)(145,-0.2)(147,0.2)(149,-0.3)(151,0.1)(153,0.3)(155,-0.2)(157,0.2)(159,-0.3)(161,0.15)(163,-0.1)(165,0.3)(167,-0.2)(169,0.1)(171,-0.3)(173,0.2)(175,-0.1)(177,0.25)(179,-0.2)(181,0.1)(183,-0.15)(185,0.2)(187,-0.1)(189,0.15)(191,-0.15)(193,0.1)(195,-0.1)(197,0.15)(200,-0.05)(203,0.1)(206,-0.05)(209,0.05)(212,-0.05)(215,0.05)(218,-0.03)(221,0.05)(224,-0.03)(227,0.03)(230,0)}
{(0,0)(56,0)(59,0.05)(62,-0.05)(65,0.05)(68,-0.1)(70,0.1)(72,-0.1)(74,0.1)(76,-0.2)(78,0.2)(80,0.4)(82,0.7)(83,0.9)(84,1)(85,0.5)(86,-0.2)(88,0.1)(90,-0.4)(92,-0.6)(94,-0.8)(95,-0.5)(97,-0.1)(99,0.1)(101,0.3)(103,0.1)(105,-0.1)(107,0.1)(109,0.2)(111,0.05)(113,-0.1)(115,0.1)(117,-0.05)(119,0.15)(121,-0.1)(123,0.1)(125,-0.05)(127,0.15)(129,-0.1)(131,0.05)(134,0.1)(137,-0.1)(140,0.15)(143,-0.05)(146,0.1)(149,-0.1)(152,0.05)(155,0.1)(158,-0.1)(161,0.05)(164,0.1)(167,-0.05)(170,0.05)(173,-0.1)(176,0.1)(179,-0.05)(182,0.05)(185,-0.05)(188,0.1)(191,-0.05)(194,0.05)(197,-0.05)(200,0.1)(203,-0.05)(206,0.05)(209,-0.03)(212,0.05)(215,-0.05)(218,0.03)(221,0.05)(224,-0.03)(227,0.03)(230,0)}
\panel{455.5pt}{50pt}{\tfV Vertical Max S/O=1.1592}{LMPP}{xlabel={Tiempo (s)}}
{(0,0)(30,0)(33,0.03)(36,-0.03)(39,0.03)(42,0)(45,0.05)(48,-0.05)(51,0.1)(54,-0.05)(57,0.05)(60,-0.1)(62,0.05)(64,-0.1)(66,0.1)(68,-0.2)(70,0.1)(72,-0.2)(74,0.2)(76,-0.1)(78,0.2)(80,-0.3)(82,0.1)(84,-0.2)(86,0.3)(88,0.5)(90,0.7)(92,0.9)(93,1)(94,0.6)(96,-0.2)(98,-0.4)(100,-0.5)(102,-0.2)(104,0.2)(106,0.1)(108,-0.2)(110,0.1)(112,0.3)(114,0.1)(116,-0.2)(118,0.1)(120,0.15)(123,-0.1)(126,0.1)(129,-0.1)(132,0.15)(135,-0.05)(138,0.1)(141,-0.1)(144,0.05)(147,0.1)(150,-0.05)(153,0.05)(156,-0.1)(159,0.05)(162,0.05)(165,-0.05)(168,0.1)(171,-0.05)(174,0.05)(177,-0.05)(180,0.05)(183,-0.05)(186,0.1)(189,-0.05)(192,0.05)(195,-0.03)(198,0.05)(201,-0.05)(204,0.05)(207,0)(210,0.05)(213,-0.03)(216,0.03)(219,0)(222,0.03)(226,0)}
{(0,0)(40,0)(43,0.05)(46,-0.05)(48,0.2)(50,0.4)(52,0.6)(53,0.5)(55,0.1)(57,-0.1)(59,0.1)(61,-0.05)(63,0.1)(65,0.2)(67,-0.3)(69,0.4)(71,-0.5)(73,0.3)(75,-0.6)(77,0.5)(79,-0.4)(81,0.6)(83,-0.6)(85,0.3)(87,-0.5)(89,0.4)(91,-0.3)(93,0.2)(95,0.6)(97,1)(98,0.5)(99,-0.5)(100,-1)(101,-0.6)(103,0.1)(105,0.4)(107,0.8)(108,0.6)(110,0.2)(112,-0.2)(114,0.1)(116,-0.1)(118,0.2)(120,0.05)(122,-0.1)(125,0.1)(128,-0.05)(131,0.1)(134,-0.1)(137,0.05)(140,0.1)(143,-0.05)(146,0.05)(149,-0.1)(152,0.05)(155,0.05)(158,-0.05)(161,0.1)(164,-0.05)(167,0.05)(170,-0.05)(173,0.05)(176,-0.05)(179,0.1)(182,-0.05)(185,0.05)(188,-0.03)(191,0.05)(194,-0.05)(197,0.05)(200,0)(203,0.05)(206,-0.03)(209,0.03)(212,0.05)(215,-0.03)(218,0.03)(222,0)(226,0)}
\end{tikzpicture}
\end{document}
